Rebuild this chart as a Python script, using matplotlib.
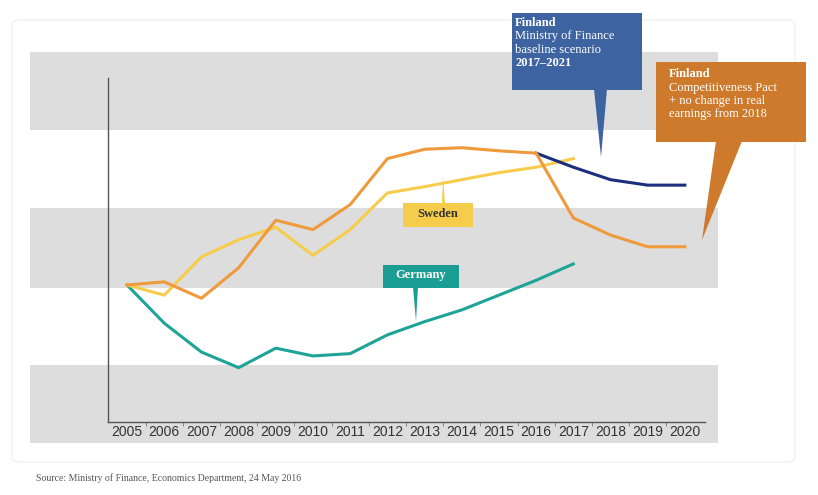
import matplotlib
matplotlib.use("Agg")
import matplotlib.pyplot as plt
from matplotlib.patches import Rectangle, Polygon, FancyBboxPatch

# data (index, 2005 = 100)
years = list(range(2005, 2021))
germany = [100, 95.1, 91.4, 89.4, 91.9, 90.9, 91.2, 93.6, 95.3, 96.8, 98.7, 100.6, 102.7]
sweden = [100, 98.7, 103.6, 105.8, 107.4, 103.8, 107.1, 111.8, 112.6, 113.5, 114.4, 115.1, 116.2]
finland_pact = [100, 100.4, 98.3, 102.2, 108.3, 107.1, 110.3, 116.2, 117.4, 117.6, 117.2, 116.9,
                108.6, 106.4, 104.9, 104.9]
finland_base_years = [2016, 2017, 2018, 2019, 2020]
finland_base = [116.9, 115.1, 113.5, 112.8, 112.8]
bands = [(79.7, 89.7), (99.6, 109.9), (119.9, 129.9)]

W, H = 818, 495
fig = plt.figure(figsize=(W / 100, H / 100), dpi=100)
fig.patch.set_facecolor("white")


def fx(x):
    return x / W


def fy(y):
    return 1 - y / H


# faint outer frame
fig.add_artist(FancyBboxPatch((fx(12), fy(462)), fx(795) - fx(12), fy(20) - fy(462),
                              boxstyle="round,pad=0,rounding_size=0.01",
                              transform=fig.transFigure, fill=False,
                              ec="#f1f1f1", lw=1))

ax = fig.add_axes([fx(30), fy(443), fx(718) - fx(30), fy(52) - fy(443)])
ax.set_xlim(2002.39, 2020.89)
ax.set_ylim(79.74, 129.87)
ax.set_facecolor("white")

for lo, hi in bands:
    ax.axhspan(lo, hi, color="#dddddd", lw=0, zorder=0)

for s in ["top", "right"]:
    ax.spines[s].set_visible(False)
ax.spines["left"].set_position(("data", 2004.49))
ax.spines["left"].set_bounds(82.44, 126.5)
ax.spines["bottom"].set_position(("data", 82.44))
ax.spines["bottom"].set_bounds(2004.49, 2020.54)
for s in ["left", "bottom"]:
    ax.spines[s].set_color("#555555")
    ax.spines[s].set_linewidth(1)
ax.set_yticks([])
ax.set_xticks(years)
ax.set_xticklabels([str(y) for y in years], fontsize=10, color="#333333",
                   family="Liberation Sans")
ax.set_xticks([y + 0.5 for y in years[:-1]], minor=True)
ax.tick_params(axis="x", which="major", length=0, pad=2)
ax.tick_params(axis="x", which="minor", length=3, color="#777777", direction="out")

ax.plot(years[:len(germany)], germany, color="#1ea497", lw=2.2)
ax.plot(years[:len(sweden)], sweden, color="#f6cc4c", lw=2.2)
ax.plot(finland_base_years, finland_base, color="#1b2f7c", lw=2.2)
ax.plot(years, finland_pact, color="#ef9a3c", lw=2.2)

serif = "Liberation Serif"


def callout(x0, y0, x1, y1, ptr, color, lines, tx, ty, tcolor="white", lh=13.5, ha="left"):
    fig.add_artist(Rectangle((fx(x0), fy(y1)), fx(x1) - fx(x0), fy(y0) - fy(y1),
                             transform=fig.transFigure, color=color, lw=0, zorder=5))
    fig.add_artist(Polygon([(fx(px), fy(py)) for px, py in ptr], closed=True,
                           transform=fig.transFigure, color=color, lw=0, zorder=5))
    for i, (txt, bold) in enumerate(lines):
        fig.text(fx(tx), fy(ty + i * lh), txt, color=tcolor, fontsize=9,
                 family=serif, fontweight="bold" if bold else "normal",
                 va="center", ha=ha, zorder=6)


callout(512, 13, 642, 90, [(594, 89), (607, 89), (601, 157)], "#3d63a0",
        [("Finland", True), ("Ministry of Finance", False),
         ("baseline scenario", False), ("2017\u20132021", True)], 515, 23)
callout(656, 62, 806, 142, [(716, 141), (742, 141), (702, 240)], "#cd7a2c",
        [("Finland", True), ("Competitiveness Pact", False),
         ("+ no change in real", False), ("earnings from 2018", False)], 669, 74)
callout(403, 203, 473, 227, [(442, 204), (445, 204), (443, 176)], "#f6cc4c",
        [("Sweden", True)], 438, 214, tcolor="#333333", ha="center")
callout(383, 265, 459, 288, [(413, 287), (418, 287), (416, 321)], "#1a9d92",
        [("Germany", True)], 421, 275, ha="center")

fig.text(fx(36), fy(478), "Source: Ministry of Finance, Economics Department, 24 May 2016",
         fontsize=7, family=serif, color="#555555", va="center", ha="left")

fig.savefig("out.png", dpi=100)
